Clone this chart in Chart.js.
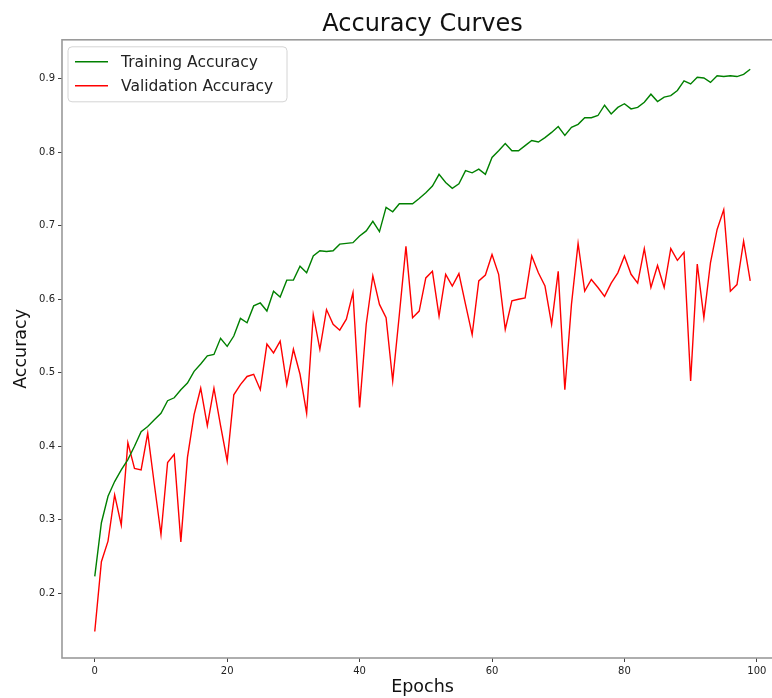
<!DOCTYPE html>
<html>
<head>
<meta charset="utf-8">
<script src="https://cdn.jsdelivr.net/npm/chart.js@4"></script>
<style>
  html, body { margin: 0; padding: 0; background: #fff; overflow: hidden; }
  #wrap { width: 800px; height: 698px; }
</style>
</head>
<body>
<div id="wrap"><canvas id="accChart" width="800" height="698"></canvas></div>
<script>
// Epoch indices 0..99
const epochs = Array.from({length: 100}, (_, i) => i);

const trainAcc = [
  0.223, 0.296, 0.332, 0.352, 0.368, 0.382, 0.400, 0.420, 0.427, 0.436,
  0.445, 0.462, 0.466, 0.477, 0.486, 0.502, 0.512, 0.523, 0.525, 0.547,
  0.536, 0.550, 0.574, 0.568, 0.591, 0.595, 0.584, 0.611, 0.603, 0.626,
  0.626, 0.645, 0.636, 0.659, 0.666, 0.665, 0.666, 0.675, 0.676, 0.677,
  0.686, 0.693, 0.706, 0.692, 0.725, 0.719, 0.730, 0.730, 0.730, 0.737,
  0.745, 0.754, 0.770, 0.759, 0.751, 0.757, 0.775, 0.772, 0.777, 0.770,
  0.793, 0.802, 0.812, 0.802, 0.802, 0.809, 0.816, 0.814, 0.820, 0.827,
  0.835, 0.823, 0.834, 0.838, 0.847, 0.847, 0.850, 0.864, 0.852, 0.861,
  0.866, 0.859, 0.861, 0.868, 0.879, 0.869, 0.875, 0.877, 0.884, 0.897,
  0.893, 0.902, 0.901, 0.895, 0.904, 0.903, 0.904, 0.903, 0.906, 0.913
];

const valAcc = [
  0.148, 0.243, 0.271, 0.334, 0.293, 0.405, 0.370, 0.368, 0.418, 0.348,
  0.280, 0.378, 0.389, 0.270, 0.385, 0.443, 0.479, 0.428, 0.479, 0.428,
  0.380, 0.470, 0.484, 0.495, 0.498, 0.477, 0.539, 0.527, 0.543, 0.484,
  0.532, 0.498, 0.445, 0.579, 0.532, 0.586, 0.566, 0.558, 0.573, 0.609,
  0.453, 0.566, 0.632, 0.593, 0.575, 0.489, 0.579, 0.672, 0.575, 0.584,
  0.629, 0.638, 0.577, 0.634, 0.618, 0.635, 0.593, 0.552, 0.625, 0.633,
  0.661, 0.634, 0.559, 0.598, 0.600, 0.602, 0.659, 0.636, 0.618, 0.566,
  0.638, 0.477, 0.593, 0.676, 0.611, 0.627, 0.616, 0.604, 0.622, 0.636,
  0.659, 0.634, 0.622, 0.669, 0.616, 0.646, 0.616, 0.669, 0.653, 0.664,
  0.489, 0.648, 0.575, 0.650, 0.695, 0.722, 0.611, 0.620, 0.679, 0.625
];

const xTicks = [0, 20, 40, 60, 80, 100];
const yTicks = [0.2, 0.3, 0.4, 0.5, 0.6, 0.7, 0.8, 0.9];

Chart.defaults.font.family = "'DejaVu Sans', sans-serif";
Chart.defaults.color = '#222';

// matplotlib-like frame around the plot area
const framePlugin = {
  id: 'frame',
  afterDraw(chart) {
    const {ctx, chartArea: a} = chart;
    ctx.save();
    ctx.strokeStyle = '#9a9a9a';
    ctx.lineWidth = 1.6;
    ctx.strokeRect(a.left, a.top, a.right - a.left, a.bottom - a.top);
    ctx.restore();
  }
};

// legend box in the upper left corner of the plot
const legendPlugin = {
  id: 'boxLegend',
  afterDatasetsDraw(chart) {
    const {ctx, chartArea: a} = chart;
    const x = a.left + 6, y = a.top + 7, w = 219, h = 55;
    ctx.save();
    ctx.beginPath();
    ctx.roundRect(x, y, w, h, 4);
    ctx.fillStyle = 'rgba(255,255,255,0.85)';
    ctx.fill();
    ctx.strokeStyle = '#d4d4d4';
    ctx.lineWidth = 1;
    ctx.stroke();
    ctx.font = "15.5px 'DejaVu Sans'";
    ctx.textBaseline = 'middle';
    chart.data.datasets.forEach((ds, i) => {
      const ly = y + 15 + i * 24;
      ctx.strokeStyle = ds.borderColor;
      ctx.lineWidth = 1.5;
      ctx.beginPath();
      ctx.moveTo(x + 7, ly);
      ctx.lineTo(x + 40, ly);
      ctx.stroke();
      ctx.fillStyle = '#222';
      ctx.fillText(ds.label, x + 53, ly + 1);
    });
    ctx.restore();
  }
};

const ctx = document.getElementById('accChart').getContext('2d');
new Chart(ctx, {
  type: 'line',
  data: {
    datasets: [
      {
        label: 'Training Accuracy',
        data: epochs.map((e, i) => ({x: e, y: trainAcc[i]})),
        borderColor: '#008000',
        borderWidth: 1.4,
        pointRadius: 0,
        tension: 0
      },
      {
        label: 'Validation Accuracy',
        data: epochs.map((e, i) => ({x: e, y: valAcc[i]})),
        borderColor: '#ff0000',
        borderWidth: 1.4,
        pointRadius: 0,
        tension: 0
      }
    ]
  },
  options: {
    responsive: false,
    animation: false,
    events: [],
    layout: { padding: { left: 0, right: 17, top: 0, bottom: 0 } },
    plugins: {
      legend: { display: false },
      tooltip: { enabled: false },
      title: {
        display: true,
        text: 'Accuracy Curves',
        fullSize: false,
        color: '#111',
        font: { size: 24, weight: 'normal' },
        padding: { top: 10, bottom: 1 }
      }
    },
    scales: {
      x: {
        type: 'linear',
        min: -4.95,
        max: 103.95,
        afterFit(scale) { scale.height = 40; },
        afterBuildTicks(scale) { scale.ticks = xTicks.map(v => ({value: v})); },
        ticks: {
          font: { size: 10 },
          padding: 3,
          maxRotation: 0,
          callback: v => String(v)
        },
        grid: { drawOnChartArea: false, drawTicks: true, tickLength: 4, color: '#444' },
        border: { display: false },
        title: {
          display: true,
          text: 'Epochs',
          color: '#111',
          font: { size: 17.5 },
          padding: { top: 0, bottom: 0 }
        }
      },
      y: {
        type: 'linear',
        min: 0.112,
        max: 0.953,
        afterFit(scale) { scale.width = 62; },
        afterBuildTicks(scale) { scale.ticks = yTicks.map(v => ({value: v})); },
        ticks: {
          font: { size: 10 },
          padding: 3,
          callback: v => v.toFixed(1)
        },
        grid: { drawOnChartArea: false, drawTicks: true, tickLength: 4, color: '#444' },
        border: { display: false },
        title: {
          display: true,
          text: 'Accuracy',
          color: '#111',
          font: { size: 17.5 },
          padding: { top: 11, bottom: 0 }
        }
      }
    }
  },
  plugins: [framePlugin, legendPlugin]
});
</script>
</body>
</html>
